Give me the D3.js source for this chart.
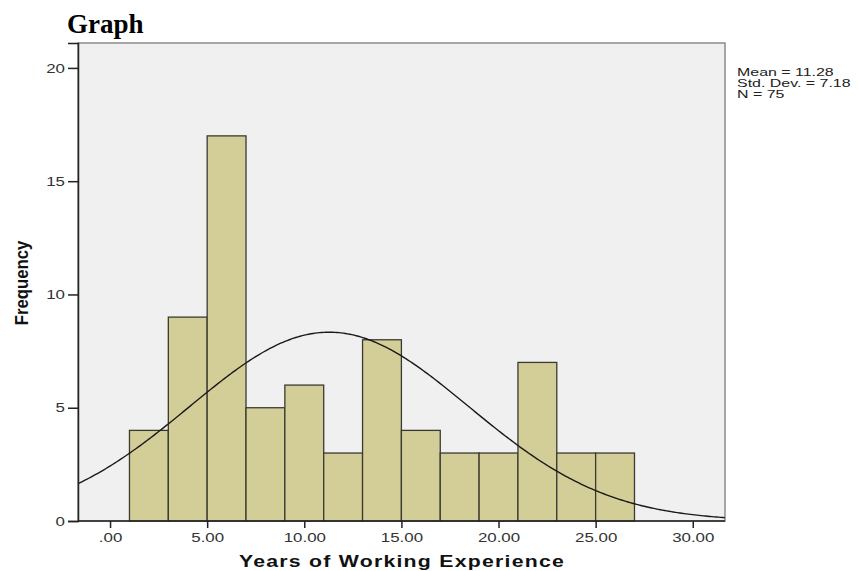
<!DOCTYPE html>
<html>
<head>
<meta charset="utf-8">
<script src="https://cdn.jsdelivr.net/npm/d3@7"></script>
<style>
  html, body { margin: 0; padding: 0; background: #ffffff; }
  svg { display: block; }
</style>
</head>
<body>
<svg id="chart" width="860" height="571"></svg>
<script>
// Histogram bins (years), counts per bin and summary statistics
const binStarts = [1, 3, 5, 7, 9, 11, 13, 15, 17, 19, 21, 23, 25];
const binWidth = 2;
const counts = [4, 9, 17, 5, 6, 3, 8, 4, 3, 3, 7, 3, 3];
const xTicks = [0, 5, 10, 15, 20, 25, 30];
const yTicks = [0, 5, 10, 15, 20];
const stats = { mean: 11.28, sd: 7.18, n: 75 };
const statLines = ["Mean = 11.28", "Std. Dev. = 7.18", "N = 75"];

const svg = d3.select("#chart");
const plot = { left: 78, right: 725, top: 43, bottom: 521 };
const sansFont = "Liberation Sans, Arial, sans-serif";
const stretch = 1.3; // wide sans lettering used for ticks and notes

const x = d3.scaleLinear().domain([-1.65, 31.66]).range([plot.left, plot.right]);
const y = d3.scaleLinear().domain([0, 21.1]).range([plot.bottom, plot.top]);

// Plot background
svg.append("rect")
  .attr("x", plot.left).attr("y", plot.top)
  .attr("width", plot.right - plot.left).attr("height", plot.bottom - plot.top)
  .attr("fill", "#f0f0f0").attr("stroke", "#8c8c8c").attr("stroke-width", 1.5);

// Bars
svg.append("g").selectAll("rect")
  .data(binStarts.map((s, i) => ({ s, c: counts[i] })))
  .join("rect")
  .attr("x", d => x(d.s))
  .attr("y", d => y(d.c))
  .attr("width", d => x(d.s + binWidth) - x(d.s))
  .attr("height", d => y(0) - y(d.c))
  .attr("fill", "#d3ce97")
  .attr("stroke", "#3a3a32")
  .attr("stroke-width", 1.3);

// Normal curve scaled to counts
const scale = stats.n * binWidth / (stats.sd * Math.sqrt(2 * Math.PI));
const curveXs = d3.range(0, 301).map(i => x.domain()[0] + (x.domain()[1] - x.domain()[0]) * i / 300);
const line = d3.line()
  .x(v => x(v))
  .y(v => y(scale * Math.exp(-0.5 * Math.pow((v - stats.mean) / stats.sd, 2))));
svg.append("path")
  .datum(curveXs)
  .attr("d", line)
  .attr("fill", "none")
  .attr("stroke", "#1a1a1a")
  .attr("stroke-width", 1.4);

// Axes
const yAxis = d3.axisLeft(y).tickValues(yTicks).tickSize(10).tickPadding(3).tickFormat(d3.format("d"));
const gy = svg.append("g").attr("transform", `translate(${plot.left},0)`).call(yAxis);
gy.select(".domain").attr("stroke", "#222").attr("stroke-width", 1.5);
gy.selectAll(".tick line").attr("stroke", "#222").attr("stroke-width", 1.5);
gy.selectAll(".tick text")
  .attr("font-family", sansFont)
  .attr("font-size", 13).attr("fill", "#333")
  .attr("x", -13 / stretch)
  .attr("transform", `scale(${stretch},1)`);

const xAxis = d3.axisBottom(x).tickValues(xTicks).tickSize(7).tickPadding(5)
  .tickFormat(d => d === 0 ? ".00" : d3.format(".2f")(d));
const gx = svg.append("g").attr("transform", `translate(0,${plot.bottom})`).call(xAxis);
gx.select(".domain").attr("stroke", "#222").attr("stroke-width", 1.5).attr("d", `M${plot.left},0H${plot.right}`);
gx.selectAll(".tick line").attr("stroke", "#222").attr("stroke-width", 1.5);
gx.selectAll(".tick text")
  .attr("font-family", sansFont)
  .attr("font-size", 13).attr("fill", "#333")
  .attr("transform", `scale(${stretch},1)`);

// Title
svg.append("text")
  .attr("x", 67).attr("y", 33)
  .attr("font-family", "Liberation Serif, Times New Roman, serif")
  .attr("font-weight", "bold").attr("font-size", 27)
  .attr("fill", "#000")
  .text("Graph");

// Axis titles
svg.append("text")
  .attr("transform", `translate(28,283) rotate(-90) scale(0.88,1)`)
  .attr("text-anchor", "middle")
  .attr("font-family", sansFont)
  .attr("font-weight", "bold").attr("font-size", 19)
  .attr("fill", "#111")
  .text("Frequency");

svg.append("text")
  .attr("transform", "translate(402,567) scale(1.25,1)")
  .attr("text-anchor", "middle")
  .attr("font-family", sansFont)
  .attr("font-weight", "bold").attr("font-size", 17)
  .attr("letter-spacing", 1)
  .attr("fill", "#111")
  .text("Years of Working Experience");

// Summary statistics
svg.append("g").selectAll("text")
  .data(statLines)
  .join("text")
  .attr("transform", (d, i) => `translate(737,${75.5 + i * 11}) scale(1.45,1)`)
  .attr("font-family", sansFont)
  .attr("font-size", 11)
  .attr("fill", "#222")
  .text(d => d);
</script>
</body>
</html>
